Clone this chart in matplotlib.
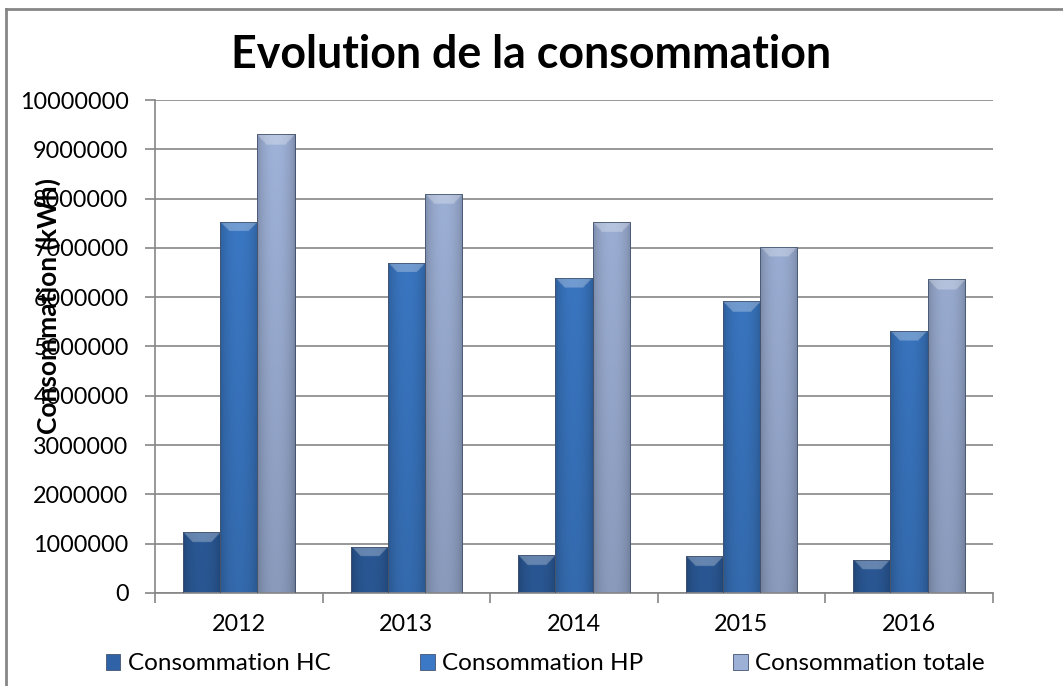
import matplotlib.pyplot as plt
import matplotlib.colors as mcolors
from matplotlib.patches import Rectangle
from matplotlib.lines import Line2D
import numpy as np

# Donnees (kWh)
years = ['2012', '2013', '2014', '2015', '2016']
conso_hc = [1230000, 940000, 770000, 750000, 670000]
conso_hp = [7530000, 6700000, 6390000, 5920000, 5320000]
conso_totale = [9310000, 8100000, 7520000, 7020000, 6360000]

series_names = ['Consommation HC', 'Consommation HP', 'Consommation totale']
series_colors = ['#2F62A6', '#3B79C6', '#9DB0D6']

plt.rcParams['font.family'] = ['Lato', 'DejaVu Sans']
grid_col = '#868686'


def shade_bar(ax, bar, color):
    # gradient facon Excel : bords plus sombres, haut biseaute plus clair
    x0, y0 = bar.get_xy()
    w, h = bar.get_width(), bar.get_height()
    base = np.array(mcolors.to_rgb(color))
    u = np.linspace(0, 1, 60)
    v = np.linspace(y0, y0 + h, 300)
    U, V = np.meshgrid(u, v)
    hf = 0.80 + 0.22 * np.sin(np.pi * U) ** 0.6
    vf = 0.86 + 0.14 * (V - y0) / 10000000
    img = base[None, None, :] * (hf * vf)[..., None]
    cap = 200000
    # biseau : trapeze clair en haut
    d = (y0 + h - V) / cap
    edge = np.minimum(U, 1 - U) * w / 0.222 * 4.0
    top = (d < 1) & (d < edge)
    img[top] = img[top] * 0.72 + 0.28
    img = np.clip(img, 0, 1)
    im = ax.imshow(img, origin='lower', extent=(x0, x0 + w, y0, y0 + h),
                   aspect='auto', zorder=2, interpolation='bilinear')
    im.set_clip_path(bar)


fig = plt.figure(figsize=(10.63, 6.86), dpi=100)
ax = fig.add_axes([0.1458, 0.1356, 0.7882, 0.7186])

x = np.arange(len(years))
width = 0.222
all_series = [conso_hc, conso_hp, conso_totale]
for i, (vals, col) in enumerate(zip(all_series, series_colors)):
    bars = ax.bar(x + (i - 1) * width, vals, width, color=col,
                  edgecolor='#3D4F6E', linewidth=0.6, zorder=2)
    for b in bars:
        shade_bar(ax, b, col)
        # contour par dessus l'image
        ax.add_patch(Rectangle(b.get_xy(), b.get_width(), b.get_height(),
                               fill=False, edgecolor='#44546F', lw=0.6, zorder=3))

ax.set_xlim(-0.5, len(years) - 0.5)
ax.set_ylim(0, 10000000)
ax.set_yticks(np.arange(0, 10000001, 1000000))
ax.set_yticklabels([str(int(t)) for t in np.arange(0, 10000001, 1000000)])
ax.yaxis.grid(True, color=grid_col, linewidth=1.2, zorder=0)
ax.set_axisbelow(True)

ax.set_xticks(np.arange(-0.5, len(years), 1.0))
ax.set_xticklabels([])
ax.set_xticks(x, minor=True)
ax.set_xticklabels(years, minor=True)
ax.tick_params(axis='x', which='major', length=7, color=grid_col, width=1.2, direction='out')
ax.tick_params(axis='x', which='minor', length=0, labelsize=16.8, pad=15)
ax.tick_params(axis='y', length=7, color=grid_col, width=1.2, labelsize=16.8, pad=12)

for s in ['top', 'right']:
    ax.spines[s].set_visible(False)
ax.spines['left'].set_color(grid_col)
ax.spines['left'].set_linewidth(1.2)
ax.spines['bottom'].set_color(grid_col)
ax.spines['bottom'].set_linewidth(1.2)

fig.text(0.5, 1 - 55 / 686, 'Evolution de la consommation', ha='center', va='center',
         fontsize=32.2, fontweight='bold')
fig.text(48 / 1063, 1 - 306 / 686, 'Consommation (kWh)', rotation=90, ha='center',
         va='center', fontsize=19, fontweight='bold')

handles = [Rectangle((0, 0), 1, 1, facecolor=c, edgecolor='#44546F', lw=0.6)
           for c in series_colors]
fig.legend(handles, series_names, loc='center', bbox_to_anchor=(0.513, 1 - 664 / 686),
           ncol=3, frameon=False, fontsize=17.5, handlelength=0.6, handleheight=0.6,
           handletextpad=0.3, columnspacing=3.7)

# cadre du graphique
fig.add_artist(Line2D([6 / 1063, 6 / 1063], [0, 1 - 9 / 686], transform=fig.transFigure,
                      color=grid_col, lw=2))
fig.add_artist(Line2D([6 / 1063, 1], [1 - 9 / 686, 1 - 9 / 686], transform=fig.transFigure,
                      color=grid_col, lw=2))

fig.savefig('out.png', dpi=100)
